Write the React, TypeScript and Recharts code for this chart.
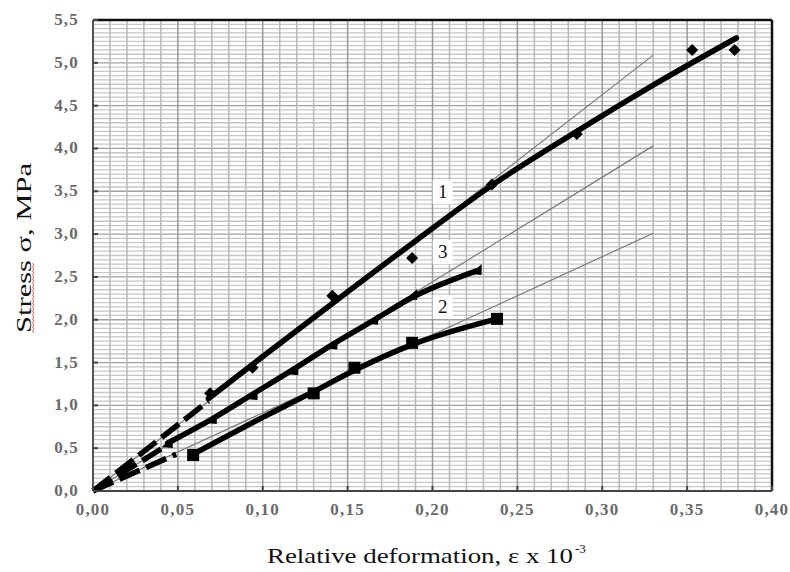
import {
  ComposedChart, Line, Scatter, XAxis, YAxis,
  ReferenceLine, ReferenceDot,
} from 'recharts';

interface Pt { x: number; y: number; }

const xTicks = [0, 0.05, 0.1, 0.15, 0.2, 0.25, 0.3, 0.35, 0.4];
const yTicks = [0, 0.5, 1, 1.5, 2, 2.5, 3, 3.5, 4, 4.5, 5, 5.5];

// thin tangent lines from origin
const tangent1: Pt[] = [{ x: 0, y: 0 }, { x: 0.33, y: 5.09 }];
const tangent3: Pt[] = [{ x: 0, y: 0 }, { x: 0.33, y: 4.03 }];
const tangent2: Pt[] = [{ x: 0, y: 0 }, { x: 0.33, y: 3.01 }];

// dashed start of each curve
const start1: Pt[] = [{ x: 0, y: 0 }, { x: 0.068, y: 1.05 }];
const start3: Pt[] = [{ x: 0, y: 0 }, { x: 0.045, y: 0.55 }];
const start2: Pt[] = [{ x: 0, y: 0 }, { x: 0.049, y: 0.43 }];

// fitted curves
const curve1: Pt[] = [
  { x: 0.068, y: 1.08 }, { x: 0.1, y: 1.57 }, { x: 0.141, y: 2.19 },
  { x: 0.19, y: 2.92 }, { x: 0.235, y: 3.57 }, { x: 0.285, y: 4.2 },
  { x: 0.33, y: 4.74 }, { x: 0.379, y: 5.29 },
];
const curve3: Pt[] = [
  { x: 0.044, y: 0.56 }, { x: 0.07, y: 0.84 }, { x: 0.094, y: 1.13 },
  { x: 0.118, y: 1.42 }, { x: 0.141, y: 1.71 }, { x: 0.165, y: 1.99 },
  { x: 0.188, y: 2.26 }, { x: 0.226, y: 2.57 },
];
const curve2: Pt[] = [
  { x: 0.059, y: 0.43 }, { x: 0.1, y: 0.86 }, { x: 0.13, y: 1.16 },
  { x: 0.154, y: 1.41 }, { x: 0.188, y: 1.71 }, { x: 0.238, y: 2.01 },
];

// measured points
const points1: Pt[] = [
  { x: 0.069, y: 1.14 }, { x: 0.094, y: 1.44 }, { x: 0.141, y: 2.28 },
  { x: 0.188, y: 2.72 }, { x: 0.235, y: 3.58 }, { x: 0.285, y: 4.17 },
  { x: 0.353, y: 5.15 }, { x: 0.378, y: 5.15 },
];
const points3: Pt[] = [
  { x: 0.044, y: 0.56 }, { x: 0.07, y: 0.84 }, { x: 0.094, y: 1.12 },
  { x: 0.118, y: 1.41 }, { x: 0.141, y: 1.71 }, { x: 0.165, y: 2.0 },
  { x: 0.188, y: 2.29 }, { x: 0.226, y: 2.58 },
];
const points2: Pt[] = [
  { x: 0.059, y: 0.42 }, { x: 0.13, y: 1.14 }, { x: 0.154, y: 1.44 },
  { x: 0.188, y: 1.73 }, { x: 0.238, y: 2.01 },
];

const curveLabels = [
  { name: '1', x: 0.206, y: 3.49 },
  { name: '3', x: 0.206, y: 2.79 },
  { name: '2', x: 0.206, y: 2.15 },
];

const xMinor = Array.from({ length: 39 }, (_, i) => (i + 1) / 100);
const yMinor = Array.from({ length: 109 }, (_, i) => (i + 1) / 20);

const serif = '"Liberation Serif", serif';
const tickFont = {
  fontFamily: serif, fontWeight: 700, fontSize: 17,
  fill: '#6a6a6a', letterSpacing: 1.2,
};

const comma = (v: number, d: number) => v.toFixed(d).replace('.', ',');

// eslint-disable-next-line @typescript-eslint/no-explicit-any
const XTick = ({ x, y, payload }: any) => (
  <g>
    <line x1={x} y1={y - 5} x2={x} y2={y} stroke="#444" strokeWidth={2} />
    <text x={x} y={y + 24} textAnchor="middle" {...tickFont}>{comma(payload.value, 2)}</text>
  </g>
);

// eslint-disable-next-line @typescript-eslint/no-explicit-any
const YTick = ({ x, y, payload }: any) => (
  <g>
    <line x1={x} y1={y} x2={x + 5} y2={y} stroke="#444" strokeWidth={2} />
    <text x={x - 14} y={y + 5} textAnchor="end" {...tickFont}>{comma(payload.value, 1)}</text>
  </g>
);

// eslint-disable-next-line @typescript-eslint/no-explicit-any
const Diamond = ({ cx, cy }: any) => (
  <polygon points={`${cx},${cy - 6} ${cx + 6},${cy} ${cx},${cy + 6} ${cx - 6},${cy}`} fill="#000" />
);
// eslint-disable-next-line @typescript-eslint/no-explicit-any
const Triangle = ({ cx, cy }: any) => (
  <polygon points={`${cx - 6},${cy + 4} ${cx + 5},${cy - 6} ${cx + 5},${cy + 5}`} fill="#000" />
);
// eslint-disable-next-line @typescript-eslint/no-explicit-any
const Square = ({ cx, cy }: any) => (
  <rect x={cx - 6} y={cy - 6} width={12} height={12} fill="#000" />
);

// eslint-disable-next-line @typescript-eslint/no-explicit-any
const CurveTag = (name: string) => ({ cx, cy }: any) => (
  <g>
    <rect x={cx - 10} y={cy - 12} width={20} height={24} fill="#fff" />
    <text x={cx} y={cy + 6} textAnchor="middle" fontFamily={serif} fontSize={19} fill="#111">{name}</text>
  </g>
);

const XTitle = () => (
  <g>
    <text x={267} y={563} textLength={306} lengthAdjust="spacingAndGlyphs"
      fontFamily={serif} fontSize={21} fill="#111">
      Relative deformation, ε x 10
    </text>
    <text x={575} y={553} fontFamily={serif} fontSize={13} fill="#111">-3</text>
  </g>
);

const YTitle = () => (
  <g transform="translate(31,248) rotate(-90)">
    <text x={0} y={0} textAnchor="middle" textLength={170} lengthAdjust="spacingAndGlyphs"
      fontFamily={serif} fontSize={21} fill="#111">
      Stress σ, MPa
    </text>
    <path d="M-85,3 l2,-1.5 l2,1.5 l2,-1.5 l2,1.5 l2,-1.5 l2,1.5 l2,-1.5 l2,1.5 l2,-1.5 l2,1.5 l2,-1.5 l2,1.5 l2,-1.5 l2,1.5 l2,-1.5 l2,1.5 l2,-1.5 l2,1.5 l2,-1.5 l2,1.5 l2,-1.5 l2,1.5 l2,-1.5 l2,1.5 l2,-1.5 l2,1.5 l2,-1.5 l2,1.5 l2,-1.5 l2,1.5 l2,-1.5 l2,1.5 l2,-1.5 l2,1.5 l2,-1.5"
      fill="none" stroke="#e03030" strokeWidth={0.8} />
  </g>
);

export default function App() {
  const thin = { stroke: '#7a7a7a', strokeWidth: 1.2, dot: false, isAnimationActive: false, type: 'linear' as const };
  const dashed = { stroke: '#000', strokeWidth: 5.5, strokeDasharray: '22 7', dot: false, isAnimationActive: false, type: 'linear' as const };
  const thick = { stroke: '#000', strokeWidth: 5.5, dot: false, isAnimationActive: false, type: 'monotone' as const, strokeLinecap: 'round' as const };

  return (
    <div style={{ position: 'absolute', left: 0, top: 0, width: 790, height: 572, background: '#fff' }}>
      <ComposedChart width={790} height={572} margin={{ top: 20, right: 18, left: 0, bottom: 0 }}>
        <XAxis
          type="number" dataKey="x" domain={[0, 0.4]} ticks={xTicks} height={81}
          tickSize={0} tickMargin={0} tickLine={false} tick={<XTick />}
          axisLine={{ stroke: '#444', strokeWidth: 2 }}
          label={{ content: () => <XTitle /> }}
        />
        <YAxis
          type="number" dataKey="y" domain={[0, 5.5]} ticks={yTicks} width={93}
          tickSize={0} tickMargin={0} tickLine={false} tick={<YTick />}
          axisLine={{ stroke: '#555', strokeWidth: 2 }}
          label={{ content: () => <YTitle /> }}
        />
        {yMinor.map(v => (
          <ReferenceLine key={`h${v}`} y={v} stroke={yTicks.includes(v) ? '#a0a0a0' : '#c6c6c6'} strokeWidth={1.3} />
        ))}
        {xMinor.map(v => (
          <ReferenceLine key={`v${v}`} x={v} stroke={Math.abs(v * 20 - Math.round(v * 20)) < 1e-6 ? '#999' : '#b8b8b8'} strokeWidth={1.5} />
        ))}
        <ReferenceLine y={5.5} stroke="#111" strokeWidth={2.5} />
        <ReferenceLine x={0.4} stroke="#111" strokeWidth={2.5} />

        <Line data={tangent1} dataKey="y" {...thin} />
        <Line data={tangent3} dataKey="y" {...thin} />
        <Line data={tangent2} dataKey="y" {...thin} />

        <Line data={start1} dataKey="y" {...dashed} />
        <Line data={start3} dataKey="y" {...dashed} />
        <Line data={start2} dataKey="y" {...dashed} />

        <Line data={curve1} dataKey="y" {...thick} />
        <Line data={curve3} dataKey="y" {...thick} />
        <Line data={curve2} dataKey="y" {...thick} />

        <Scatter data={points1} shape={<Diamond />} isAnimationActive={false} />
        <Scatter data={points3} shape={<Triangle />} isAnimationActive={false} />
        <Scatter data={points2} shape={<Square />} isAnimationActive={false} />

        {curveLabels.map(l => (
          <ReferenceDot key={l.name} x={l.x} y={l.y} r={1} shape={CurveTag(l.name)} />
        ))}
      </ComposedChart>
    </div>
  );
}
